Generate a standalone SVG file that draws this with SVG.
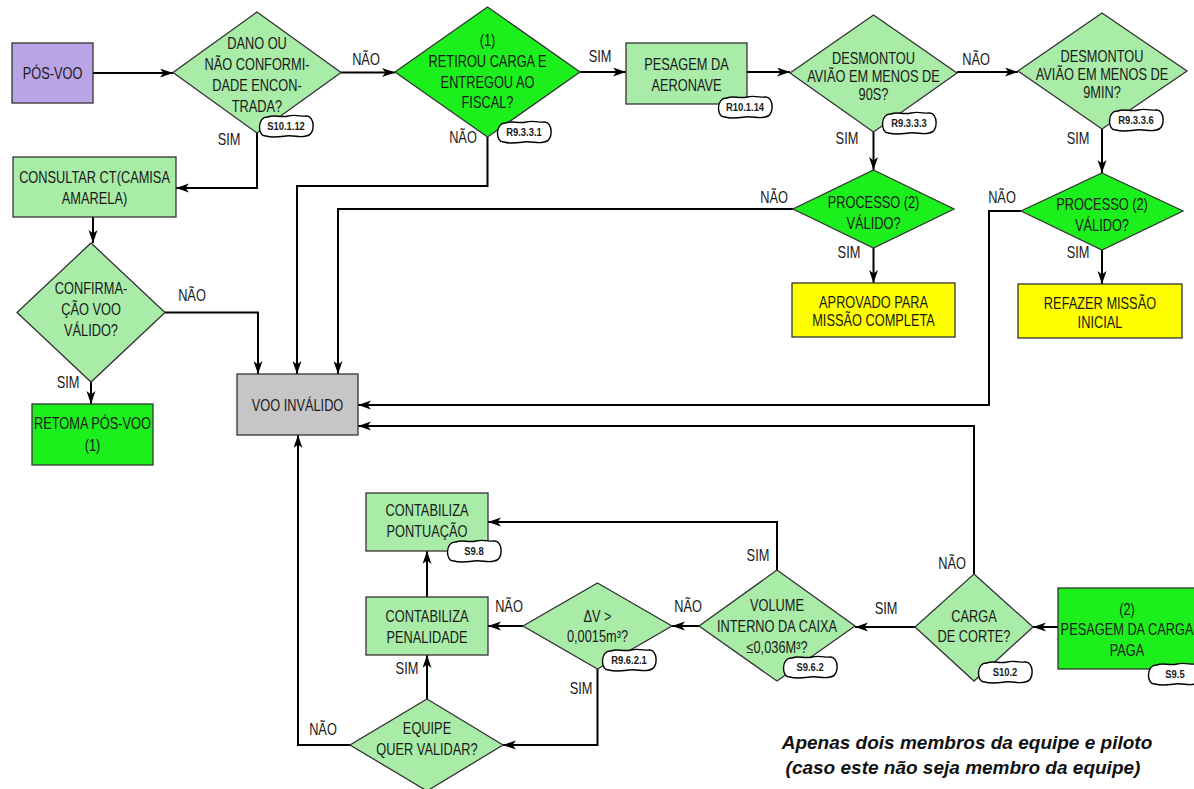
<svg xmlns="http://www.w3.org/2000/svg" width="1194" height="789" viewBox="0 0 1194 789">
<defs>
<style>
.n{stroke:#333;stroke-width:1.3}
.lg{fill:#a8eca8}
.bg{fill:#1cf01c}
.t{font-family:"Liberation Sans",Arial,sans-serif;font-size:16px;fill:#1a1a1a;text-anchor:middle;transform-box:fill-box;transform-origin:center;transform:scaleX(0.8)}
.tg{font-family:"Liberation Sans",Arial,sans-serif;font-size:11.5px;font-weight:bold;fill:#1a1a1a;text-anchor:middle;transform-box:fill-box;transform-origin:center;transform:scaleX(0.82)}
.c path{fill:none;stroke:#000;stroke-width:2;marker-end:url(#ah)}
.cloud{fill:#fff;stroke:#000;stroke-width:1.4}
.note{font-family:"Liberation Sans",Arial,sans-serif;font-size:19px;font-weight:bold;font-style:italic;fill:#111;text-anchor:middle}
</style>
<marker id="ah" markerUnits="userSpaceOnUse" markerWidth="14" markerHeight="10" refX="13" refY="4.5" orient="auto">
<path d="M0,0 L13,4.5 L0,9 L3.5,4.5 Z" fill="#000"/>
</marker>
<path id="cl" class="cloud" d="M-18,-9 C-12,-12 -6,-8 2,-10 C10,-12 16,-9 20,-10 C29,-11 30,10 20,10 C14,12 8,9 0,10 C-8,11 -14,12 -20,10 C-29,11 -29,-10 -18,-9 Z"/>
</defs>

<g class="c" id="connectors">
<path d="M93,73 H173"/>
<path d="M341,72.5 H395"/>
<path d="M580,72 H626"/>
<path d="M747,72 H790"/>
<path d="M957,72 H1018"/>
<path d="M873.5,132 V170"/>
<path d="M1102,129 V173"/>
<path d="M873.5,248 V283"/>
<path d="M1102,250 V284"/>
<path d="M257,133 V188 H176"/>
<path d="M93,217 V243"/>
<path d="M91,382 V404"/>
<path d="M165,312.5 H258 V374"/>
<path d="M487.5,137 V186 H297 V374"/>
<path d="M793,209 H338 V374"/>
<path d="M1021,211 H989 V405 H358"/>
<path d="M974,574 V426 H358"/>
<path d="M1058,627 H1033"/>
<path d="M915,627 H855"/>
<path d="M777,570 V522 H488"/>
<path d="M699,626 H672"/>
<path d="M523,626 H488"/>
<path d="M427,597 V551"/>
<path d="M597.5,669 V745 H503"/>
<path d="M427,699 V655"/>
<path d="M350,745 H298 V435"/>
</g>

<g id="labels">
<text class="t" x="366" y="65.5">NÃO</text>
<text class="t" x="229" y="145.5">SIM</text>
<text class="t" x="600" y="62.5">SIM</text>
<text class="t" x="463" y="143.5">NÃO</text>
<text class="t" x="976" y="65.5">NÃO</text>
<text class="t" x="847" y="144.5">SIM</text>
<text class="t" x="1078" y="144.5">SIM</text>
<text class="t" x="774" y="203.5">NÃO</text>
<text class="t" x="849" y="258.5">SIM</text>
<text class="t" x="1002" y="203.5">NÃO</text>
<text class="t" x="1078" y="258.5">SIM</text>
<text class="t" x="192" y="301.5">NÃO</text>
<text class="t" x="68" y="388.5">SIM</text>
<text class="t" x="758" y="561.5">SIM</text>
<text class="t" x="952" y="569.5">NÃO</text>
<text class="t" x="886" y="614.5">SIM</text>
<text class="t" x="688" y="612.5">NÃO</text>
<text class="t" x="509" y="612.5">NÃO</text>
<text class="t" x="581" y="694.5">SIM</text>
<text class="t" x="407" y="674.5">SIM</text>
<text class="t" x="323" y="735.5">NÃO</text>
</g>

<g id="pos-voo"><rect class="n" x="12" y="43" width="81" height="60" fill="#b9a4e6"/><text class="t" x="52.5" y="79">PÓS-VOO</text></g>

<g id="dano"><polygon class="n lg" points="257,12 341,72.5 257,133 173,72.5"/>
<text class="t" x="257" y="49">DANO OU</text><text class="t" x="257" y="70">NÃO CONFORMI-</text><text class="t" x="257" y="91">DADE ENCON-</text><text class="t" x="257" y="112">TRADA?</text>
<use href="#cl" x="286" y="126"/><text class="tg" x="286" y="130">S10.1.12</text></g>

<g id="retirou"><polygon class="n bg" points="487.5,7 580,72 487.5,137 395,72"/>
<text class="t" x="487.5" y="46">(1)</text><text class="t" x="487.5" y="67">RETIROU CARGA E</text><text class="t" x="487.5" y="88">ENTREGOU AO</text><text class="t" x="487.5" y="108">FISCAL?</text>
<use href="#cl" x="524" y="132"/><text class="tg" x="524" y="136">R9.3.3.1</text></g>

<g id="pesagem-aeronave"><rect class="n lg" x="626" y="43" width="121" height="61"/>
<text class="t" x="686.5" y="70">PESAGEM DA</text><text class="t" x="686.5" y="91">AERONAVE</text>
<use href="#cl" x="745" y="107"/><text class="tg" x="745" y="111">R10.1.14</text></g>

<g id="desmontou-90s"><polygon class="n lg" points="873.5,15 957,73 873.5,132 790,73"/>
<text class="t" x="873.5" y="64">DESMONTOU</text><text class="t" x="873.5" y="82.5">AVIÃO EM MENOS DE</text><text class="t" x="873.5" y="100">90S?</text>
<use href="#cl" x="909" y="123"/><text class="tg" x="909" y="127">R9.3.3.3</text></g>

<g id="desmontou-9min"><polygon class="n lg" points="1102,13 1187,71 1102,129 1018,71"/>
<text class="t" x="1102" y="62.5">DESMONTOU</text><text class="t" x="1102" y="80">AVIÃO EM MENOS DE</text><text class="t" x="1102" y="98">9MIN?</text>
<use href="#cl" x="1136" y="120"/><text class="tg" x="1136" y="124">R9.3.3.6</text></g>

<g id="processo-1"><polygon class="n bg" points="873.5,170 954,209 873.5,248 793,209"/>
<text class="t" x="873.5" y="208">PROCESSO (2)</text><text class="t" x="873.5" y="229">VÁLIDO?</text></g>

<g id="processo-2"><polygon class="n bg" points="1102,173 1183,211 1102,250 1021,211"/>
<text class="t" x="1102" y="210">PROCESSO (2)</text><text class="t" x="1102" y="231">VÁLIDO?</text></g>

<g id="aprovado"><rect class="n" x="792" y="283" width="163" height="54" fill="#ffff00"/>
<text class="t" x="873.5" y="308">APROVADO PARA</text><text class="t" x="873.5" y="326.5">MISSÃO COMPLETA</text></g>

<g id="refazer"><rect class="n" x="1018" y="284" width="164" height="54" fill="#ffff00"/>
<text class="t" x="1100" y="309">REFAZER MISSÃO</text><text class="t" x="1100" y="328">INICIAL</text></g>

<g id="consultar"><rect class="n lg" x="13" y="157" width="163" height="60"/>
<text class="t" x="94.5" y="183">CONSULTAR CT(CAMISA</text><text class="t" x="94.5" y="204">AMARELA)</text></g>

<g id="confirmacao"><polygon class="n lg" points="91,243 165,312.5 91,382 17,312.5"/>
<text class="t" x="91" y="294">CONFIRMA-</text><text class="t" x="91" y="315">ÇÃO VOO</text><text class="t" x="91" y="336">VÁLIDO?</text></g>

<g id="retoma"><rect class="n bg" x="32" y="404" width="121" height="61"/>
<text class="t" x="92.5" y="429">RETOMA PÓS-VOO</text><text class="t" x="92.5" y="451">(1)</text></g>

<g id="voo-invalido"><rect class="n" x="237" y="374" width="121" height="61" fill="#c6c6c6"/>
<text class="t" x="297.5" y="411">VOO INVÁLIDO</text></g>

<g id="pontuacao"><rect class="n lg" x="366" y="493" width="122" height="58"/>
<text class="t" x="427" y="516">CONTABILIZA</text><text class="t" x="427" y="537">PONTUAÇÃO</text>
<use href="#cl" x="474" y="551"/><text class="tg" x="474" y="555">S9.8</text></g>

<g id="penalidade"><rect class="n lg" x="366" y="597" width="122" height="58"/>
<text class="t" x="427" y="622">CONTABILIZA</text><text class="t" x="427" y="643">PENALIDADE</text></g>

<g id="delta-v"><polygon class="n lg" points="597.5,583 672,626 597.5,669 523,626"/>
<text class="t" x="597.5" y="622">ΔV &gt;</text><text class="t" x="597.5" y="642">0,0015m³?</text>
<use href="#cl" x="629" y="660"/><text class="tg" x="629" y="664">R9.6.2.1</text></g>

<g id="volume"><polygon class="n lg" points="777,570 855,626 777,681 699,626"/>
<text class="t" x="777" y="611">VOLUME</text><text class="t" x="777" y="632">INTERNO DA CAIXA</text><text class="t" x="777" y="653">≤0,036M³?</text>
<use href="#cl" x="810" y="667"/><text class="tg" x="810" y="671">S9.6.2</text></g>

<g id="carga-corte"><polygon class="n lg" points="974,574 1033,627 974,681 915,627"/>
<text class="t" x="974" y="622">CARGA</text><text class="t" x="974" y="642">DE CORTE?</text>
<use href="#cl" x="1005" y="672"/><text class="tg" x="1005" y="676">S10.2</text></g>

<g id="pesagem-carga"><rect class="n bg" x="1058" y="588" width="142" height="81"/>
<text class="t" x="1127" y="615">(2)</text><text class="t" x="1127" y="635">PESAGEM DA CARGA</text><text class="t" x="1127" y="656">PAGA</text>
<use href="#cl" x="1175" y="674"/><text class="tg" x="1175" y="678">S9.5</text></g>

<g id="equipe"><polygon class="n lg" points="427,699 503,745 427,791 350,745"/>
<text class="t" x="427" y="734">EQUIPE</text><text class="t" x="427" y="755">QUER VALIDAR?</text></g>

<g id="note">
<text class="note" x="967" y="749">Apenas dois membros da equipe e piloto</text>
<text class="note" x="963" y="774">(caso este não seja membro da equipe)</text>
</g>
</svg>
